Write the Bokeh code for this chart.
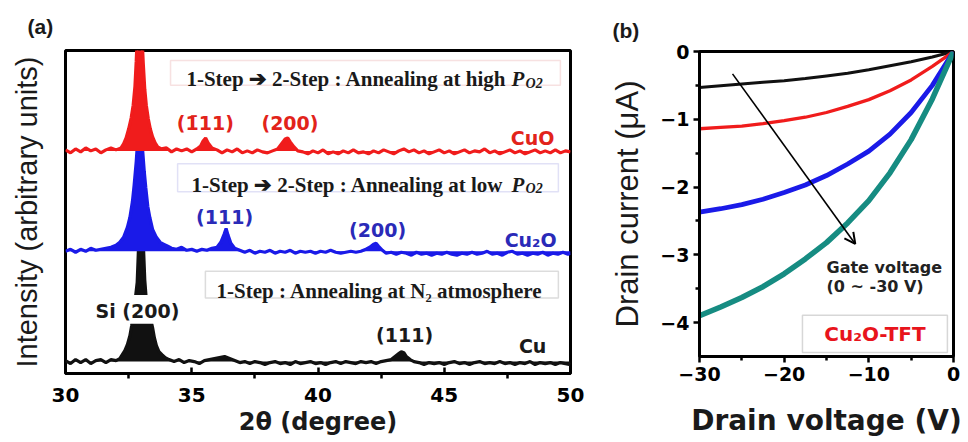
import numpy as np
from bokeh.embed import file_html
from bokeh.layouts import row
from bokeh.models import (Arrow, BoxAnnotation, ColumnDataSource, FixedTicker,
                          Label, OpenHead, Range1d, Title)
from bokeh.plotting import figure
from bokeh.resources import INLINE

# ---------------------------------------------------------------------------
# (a) XRD patterns: 2-theta (degree) and intensity above each trace's baseline
# ---------------------------------------------------------------------------
cu_2theta = [30.0, 30.2, 30.4, 30.6, 30.8, 31.0, 31.2, 31.4, 31.6, 31.8,
             32.0, 32.15, 32.25, 32.35, 32.45, 32.55, 32.62, 32.68, 32.76, 32.84,
             32.9, 32.96, 33.02, 33.08, 33.14, 33.2, 33.28, 33.38, 33.45, 33.52,
             33.6, 33.7, 33.82, 33.95, 34.1, 34.3, 34.5, 34.7, 34.9, 35.1,
             35.3, 35.5, 35.7, 35.9, 36.1, 36.3, 36.5, 36.7, 36.9, 37.1,
             37.3, 37.5, 37.7, 37.9, 38.1, 38.3, 38.5, 38.7, 38.9, 39.1,
             39.3, 39.5, 39.7, 39.9, 40.1, 40.3, 40.5, 40.7, 40.9, 41.1,
             41.3, 41.5, 41.7, 41.9, 42.1, 42.3, 42.5, 42.7, 42.9, 43.05,
             43.2, 43.3, 43.4, 43.5, 43.65, 43.8, 44.0, 44.2, 44.4, 44.6,
             44.8, 45.0, 45.2, 45.4, 45.6, 45.8, 46.0, 46.2, 46.4, 46.6,
             46.8, 47.0, 47.2, 47.4, 47.6, 47.8, 48.0, 48.2, 48.4, 48.6,
             48.8, 49.0, 49.2, 49.4, 49.6, 49.8, 50.0]
cu_counts = [1, -2, 2, -1, 2, -2, 1, 2, -1, 2,
             1, 3, 7, 11, 17, 26, 36, 48, 62, 80,
             120, 146, 148, 120, 82, 62, 50, 42, 34, 24,
             16, 10, 7, 4, 2, 0, 2, -1, 1, 0,
             -2, 1, 2, 3, 4, 5, 3, 1, -1, 0,
             -2, 0, -1, -3, -1, 0, -2, -1, -3, 0,
             -2, -1, 0, -2, -1, -3, -1, 0, -2, 0,
             -1, -2, 0, -1, 0, -2, 0, 1, 2, 5,
             8, 10, 9, 5, 2, 0, -1, -3, -1, -2,
             -1, -3, -1, 0, -2, -1, -3, -1, 0, -2,
             -1, -2, 0, -2, -1, -3, -1, -2, 0, -3,
             -1, -2, -1, -3, -1, -2, -3]

cu2o_2theta = [30.0, 30.2, 30.4, 30.6, 30.8, 31.0, 31.2, 31.4, 31.6, 31.8,
               32.0, 32.15, 32.3, 32.45, 32.55, 32.65, 32.72, 32.8, 32.86, 32.94,
               33.0, 33.06, 33.12, 33.18, 33.26, 33.34, 33.45, 33.6, 33.75, 33.9,
               34.05, 34.2, 34.4, 34.6, 34.8, 35.0, 35.2, 35.4, 35.6, 35.8,
               36.0, 36.15, 36.28, 36.36, 36.44, 36.55, 36.7, 36.9, 37.1, 37.3,
               37.5, 37.7, 37.9, 38.1, 38.3, 38.5, 38.7, 38.9, 39.1, 39.3,
               39.5, 39.7, 39.9, 40.1, 40.3, 40.5, 40.7, 40.9, 41.1, 41.3,
               41.5, 41.7, 41.9, 42.05, 42.2, 42.3, 42.4, 42.55, 42.7, 42.9,
               43.1, 43.3, 43.5, 43.7, 43.9, 44.1, 44.3, 44.5, 44.7, 44.9,
               45.1, 45.3, 45.5, 45.7, 45.9, 46.1, 46.3, 46.5, 46.7, 46.9,
               47.1, 47.3, 47.5, 47.7, 47.9, 48.1, 48.3, 48.5, 48.7, 48.9,
               49.1, 49.3, 49.5, 49.7, 49.9, 50.0]
cu2o_counts = [0, 2, -1, 2, 0, 3, 1, 2, 3, 4,
               6, 9, 14, 24, 34, 50, 67, 90, 112, 122,
               118, 100, 80, 64, 45, 34, 22, 14, 9, 7,
               5, 3, 2, 4, 1, 2, 0, 2, 1, 3,
               4, 9, 17, 23, 16, 8, 3, 1, -1, 1,
               -2, 0, -1, 1, -2, 0, -1, 1, -2, 0,
               -1, 0, -2, 0, -1, 1, -1, -2, -1, 0,
               -1, 0, 2, 4, 7, 8, 5, 1, -2, -1,
               -3, -1, -2, -4, -1, -3, -2, -4, -2, -3,
               -1, -3, -4, -2, -3, -1, -3, -2, 0, -3,
               -2, -4, -1, 0, -3, -2, -4, -2, -3, -1,
               -4, -2, -3, -1, -3, -2]

cuo_2theta = [30.0, 30.2, 30.4, 30.6, 30.8, 31.0, 31.2, 31.4, 31.6, 31.8,
              32.0, 32.2, 32.3, 32.4, 32.5, 32.6, 32.68, 32.75, 32.8, 32.86,
              32.92, 32.98, 33.03, 33.08, 33.14, 33.2, 33.28, 33.36, 33.45, 33.55,
              33.65, 33.8, 34.0, 34.2, 34.4, 34.6, 34.8, 35.0, 35.2, 35.35,
              35.45, 35.55, 35.65, 35.8, 36.0, 36.2, 36.4, 36.6, 36.8, 37.0,
              37.2, 37.4, 37.6, 37.8, 38.0, 38.2, 38.4, 38.55, 38.7, 38.8,
              38.9, 39.05, 39.2, 39.4, 39.6, 39.8, 40.0, 40.2, 40.4, 40.6,
              40.8, 41.0, 41.2, 41.4, 41.6, 41.8, 42.0, 42.2, 42.4, 42.6,
              42.8, 43.0, 43.2, 43.4, 43.6, 43.8, 44.0, 44.2, 44.4, 44.6,
              44.8, 45.0, 45.2, 45.4, 45.6, 45.8, 46.0, 46.2, 46.4, 46.6,
              46.8, 47.0, 47.2, 47.4, 47.6, 47.8, 48.0, 48.2, 48.4, 48.6,
              48.8, 49.0, 49.2, 49.4, 49.6, 49.8, 50.0]
cuo_counts = [1, -2, 2, -1, 3, 0, 2, -2, 1, 3,
              1, 3, 7, 13, 22, 33, 46, 65, 90, 125,
              140, 140, 115, 88, 62, 46, 32, 22, 14, 8,
              4, 2, 3, -1, 2, 0, 2, -1, 2, 5,
              10, 13, 8, 3, 1, -2, 1, -1, 2, -2,
              0, -2, 1, -1, -2, 0, 2, 7, 12, 13,
              9, 4, 0, -1, -3, 0, -2, 1, -3, -1,
              -3, 0, -2, 1, -2, -1, -3, 0, -2, 1,
              -1, -3, 0, 2, -1, 1, -2, 0, -3, -1,
              1, -2, 0, -3, -1, 1, -2, 0, -1, 2,
              -2, 0, -3, -1, 1, -2, 0, -3, -1, 1,
              -2, 0, -2, 1, -2, 0, -1]

xrd_ticks = [30, 35, 40, 45, 50]
xrd_minor_ticks = [32.5, 37.5, 42.5, 47.5]

# vertical stacking of the three patterns
CU_OFFSET, CU2O_OFFSET, CUO_OFFSET = 12, 123, 224

# ---------------------------------------------------------------------------
# (b) Output characteristics of the Cu2O TFT
# ---------------------------------------------------------------------------
drain_voltage = [-30, -27.5, -25, -22.5, -20, -17.5, -15, -12.5, -10, -7.5, -5, -2.5, 0]
id_vg_0 = [-0.53, -0.505, -0.48, -0.455, -0.43, -0.40, -0.36, -0.32, -0.27, -0.21, -0.15, -0.08, 0]
id_vg_10 = [-1.14, -1.12, -1.10, -1.065, -1.02, -0.97, -0.90, -0.81, -0.71, -0.58, -0.42, -0.22, 0]
id_vg_20 = [-2.37, -2.32, -2.26, -2.18, -2.08, -1.97, -1.83, -1.66, -1.47, -1.22, -0.90, -0.50, 0]
id_vg_30 = [-3.90, -3.77, -3.63, -3.47, -3.28, -3.06, -2.82, -2.53, -2.20, -1.79, -1.30, -0.70, 0]
vd_ticks = [-30, -20, -10, 0]
vd_minor_ticks = [-25, -15, -5]
id_ticks = [-4, -3, -2, -1, 0]
id_minor_ticks = [-3.5, -2.5, -1.5, -0.5]

RED, BLUE, BLACK, TEAL = "#f01c1c", "#1a1ae8", "#111111", "#168c82"
RED_TXT, BLUE_TXT, BLACK_TXT = "#e2231a", "#2a2ab8", "#1a1a1a"


def add_text(p, x, y, text, size, color=BLACK_TXT, font="DejaVu Sans", style="bold",
             align="center", baseline="middle", angle=0.0):
    p.add_layout(Label(x=x, y=y, text=text, text_font=font,
                       text_font_size=f"{size}px", text_font_style=style,
                       text_color=color, text_align=align, text_baseline=baseline,
                       angle=angle))


def style_frame(p):
    p.grid.visible = False
    p.outline_line_color = "black"
    p.outline_line_width = 3
    p.outline_line_alpha = 1.0
    p.background_fill_color = "white"
    p.border_fill_color = "white"
    # each panel keeps its own frame geometry inside the row
    if p.lookup("frame_align", raises=False) is not None:
        p.frame_align = False


def panel_tag(p, text, offset, standoff):
    p.add_layout(Title(text=text, align="left", offset=offset, standoff=standoff,
                       text_font="Liberation Sans", text_font_size="21px",
                       text_font_style="bold", text_color=BLACK_TXT), "above")


def xrd_trace(p, two_theta, counts, offset, color):
    y = np.asarray(counts, dtype=float) + offset
    src = ColumnDataSource(dict(x=two_theta, y=y, base=np.full(len(y), float(offset))))
    p.varea(x="x", y1="base", y2="y", source=src, fill_color=color)
    p.line(x="x", y="y", source=src, line_color=color, line_width=3.2)


# ---------------------------- panel (a) -----------------------------------
pa = figure(width=590, height=442, x_range=Range1d(30, 50), y_range=Range1d(0, 325),
            output_backend="svg", toolbar_location=None, title=None,
            min_border_left=65, min_border_right=20, min_border_top=48,
            min_border_bottom=69)
style_frame(pa)
panel_tag(pa, "(a)", -38, 25)

pa.xaxis.ticker = FixedTicker(ticks=xrd_ticks, minor_ticks=xrd_minor_ticks)
pa.xaxis.axis_line_width = 3
pa.xaxis.major_tick_in = 6
pa.xaxis.major_tick_out = 0
pa.xaxis.minor_tick_in = 0
pa.xaxis.minor_tick_out = 5
pa.xaxis.major_tick_line_width = 2.5
pa.xaxis.minor_tick_line_width = 2.5
pa.xaxis.major_label_text_font = "DejaVu Sans"
pa.xaxis.major_label_text_font_style = "bold"
pa.xaxis.major_label_text_font_size = "20px"
pa.xaxis.major_label_text_color = "black"
pa.xaxis.major_label_standoff = 9
pa.xaxis.axis_label = "2\u03b8 (degree)"
pa.xaxis.axis_label_text_font = "DejaVu Sans"
pa.xaxis.axis_label_text_font_style = "bold"
pa.xaxis.axis_label_text_font_size = "24px"
pa.xaxis.axis_label_text_color = BLACK_TXT
pa.xaxis.axis_label_standoff = 3

pa.yaxis.ticker = FixedTicker(ticks=[], minor_ticks=[])
pa.yaxis.axis_line_color = None
pa.yaxis.major_tick_out = 0
pa.yaxis.major_tick_in = 0
pa.yaxis.axis_label = "Intensity (arbitrary units)"
pa.yaxis.axis_label_text_font = "Liberation Sans"
pa.yaxis.axis_label_text_font_style = "normal"
pa.yaxis.axis_label_text_font_size = "29px"
pa.yaxis.axis_label_text_color = BLACK_TXT
pa.yaxis.axis_label_standoff = 23

xrd_trace(pa, cu_2theta, cu_counts, CU_OFFSET, BLACK)
# gap in the Si spike where its label sits
pa.add_layout(BoxAnnotation(left=32.3, right=33.6, bottom=50, top=79,
                            fill_color="white", fill_alpha=1.0, line_color=None))
xrd_trace(pa, cu2o_2theta, cu2o_counts, CU2O_OFFSET, BLUE)
xrd_trace(pa, cuo_2theta, cuo_counts, CUO_OFFSET, RED)

# annealing-condition boxes
for left, right, bottom, top, edge in [(34.16, 49.60, 290, 315, "#e39a9a"),
                                       (34.44, 49.52, 183, 211, "#9a9ae0"),
                                       (35.54, 49.52, 76, 103, "#8a8a8a")]:
    pa.add_layout(BoxAnnotation(left=left, right=right, bottom=bottom, top=top,
                                fill_color="white", fill_alpha=1.0,
                                line_color=edge, line_width=1.5))

SERIF = "Liberation Serif"
add_text(pa, 47.47, 296, "1-Step \u2794 2-Step : Annealing at high", 21, font=SERIF,
         align="right", baseline="alphabetic")
add_text(pa, 47.66, 296, "P", 21, font=SERIF, style="bold italic", align="left",
         baseline="alphabetic")
add_text(pa, 48.22, 292, "O2", 14, font=SERIF, style="bold italic", align="left",
         baseline="alphabetic")
add_text(pa, 47.35, 190, "1-Step \u2794 2-Step : Annealing at low", 21, font=SERIF,
         align="right", baseline="alphabetic")
add_text(pa, 47.66, 190, "P", 21, font=SERIF, style="bold italic", align="left",
         baseline="alphabetic")
add_text(pa, 48.22, 186, "O2", 14, font=SERIF, style="bold italic", align="left",
         baseline="alphabetic")
add_text(pa, 42.44, 83, "1-Step : Annealing at N\u2082 atmosphere", 21, font=SERIF,
         baseline="alphabetic")

# reflections and phase names
peak_labels = [("(1\u030411)", 35.54, 252, RED_TXT), ("(200)", 38.89, 252, RED_TXT),
               ("CuO", 48.50, 236.5, RED_TXT),
               ("(111)", 36.30, 157.5, BLUE_TXT), ("(200)", 42.36, 144.5, BLUE_TXT),
               ("Cu\u2082O", 48.42, 134.5, BLUE_TXT),
               ("Si (200)", 32.85, 62.5, BLACK_TXT), ("(111)", 43.43, 39, BLACK_TXT),
               ("Cu", 48.50, 28, BLACK_TXT)]
for text, x, y, color in peak_labels:
    add_text(pa, x, y, text, 19, color=color)

# ---------------------------- panel (b) -----------------------------------
pb = figure(width=378, height=442, x_range=Range1d(-30, 0), y_range=Range1d(-4.5, 0),
            output_backend="svg", toolbar_location=None, title=None,
            min_border_left=109, min_border_right=15, min_border_top=51,
            min_border_bottom=86)
style_frame(pb)
panel_tag(pb, "(b)", -87, 19)

for axis, ticks, minor in [(pb.xaxis[0], vd_ticks, vd_minor_ticks),
                           (pb.yaxis[0], id_ticks, id_minor_ticks)]:
    axis.ticker = FixedTicker(ticks=ticks, minor_ticks=minor)
    axis.axis_line_width = 3
    axis.major_tick_in, axis.major_tick_out = 0, 6
    axis.minor_tick_in, axis.minor_tick_out = 0, 4
    axis.major_tick_line_width = 2.5
    axis.minor_tick_line_width = 2.5
    axis.major_label_text_font = "DejaVu Sans"
    axis.major_label_text_font_style = "bold"
    axis.major_label_text_font_size = "19px"
    axis.major_label_text_color = "black"
    axis.major_label_standoff = 4
    axis.axis_label_text_color = BLACK_TXT

bx, by = pb.xaxis[0], pb.yaxis[0]
bx.axis_label = "Drain voltage (V)"
bx.axis_label_text_font = "DejaVu Sans"
bx.axis_label_text_font_style = "bold"
bx.axis_label_text_font_size = "28px"
bx.axis_label_standoff = 20
by.axis_label = "Drain current (\u03bcA)"
by.axis_label_text_font = "Liberation Sans"
by.axis_label_text_font_style = "normal"
by.axis_label_text_font_size = "31px"
by.axis_label_standoff = 12

for currents, color, width in [(id_vg_0, BLACK, 3), (id_vg_10, RED, 3.3),
                               (id_vg_20, BLUE, 4.8), (id_vg_30, TEAL, 5.5)]:
    pb.line(drain_voltage, currents, line_color=color, line_width=width)

pb.add_layout(Arrow(end=OpenHead(size=11, line_width=2, line_color="black"),
                    x_start=-26.1, y_start=-0.33, x_end=-11.6, y_end=-2.84,
                    line_width=1.6, line_color="black"))
add_text(pb, -15.0, -3.18, "Gate voltage", 16, color="#222222", align="left",
         baseline="alphabetic")
add_text(pb, -15.0, -3.46, "(0 ~ -30 V)", 16, color="#222222", align="left",
         baseline="alphabetic")
pb.add_layout(BoxAnnotation(left=-17.84, right=-0.72, bottom=-4.44, top=-3.89,
                            fill_color="white", fill_alpha=1.0,
                            line_color="#7a7a7a", line_width=1.5))
add_text(pb, -9.28, -4.17, "Cu\u2082O-TFT", 20, color="#e8141c")

layout = row(pa, pb)
open("out.html", "w").write(file_html(layout, INLINE))
